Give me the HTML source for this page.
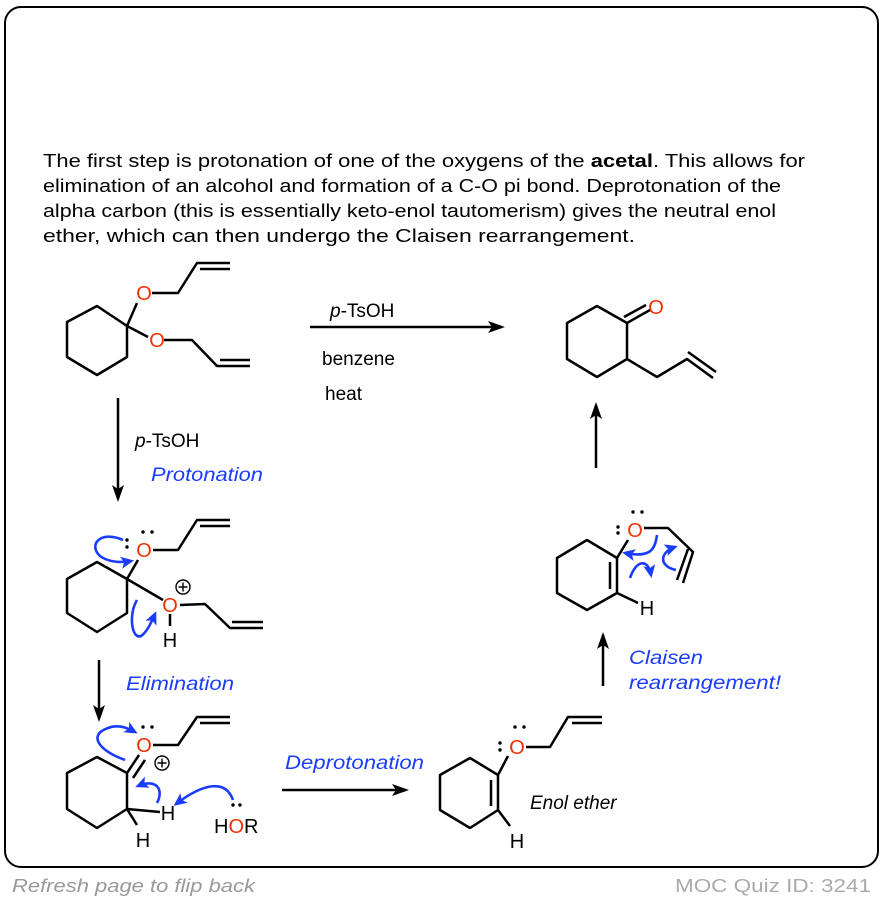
<!DOCTYPE html>
<html><head><meta charset="utf-8"><style>
html,body{margin:0;padding:0;background:#fff;}
svg{display:block;}
text{font-family:"Liberation Sans",Arial,sans-serif;}
</style></head><body>
<svg width="884" height="902" viewBox="0 0 884 902" xmlns="http://www.w3.org/2000/svg">
<defs>
<marker id="ah" markerWidth="20" markerHeight="14" refX="14" refY="7" orient="auto" markerUnits="userSpaceOnUse"><path d="M0,1 L17,7 L0,13 L4,7 Z" fill="#000"/></marker>
<marker id="ab" markerWidth="16" markerHeight="14" refX="10" refY="7" orient="auto" markerUnits="userSpaceOnUse"><path d="M0,1 L13,7 L0,13 L3,7 Z" fill="#1a3cff"/></marker>
</defs>
<rect x="5" y="7" width="873" height="860" rx="16" ry="16" fill="none" stroke="#000" stroke-width="2"/>
<g font-size="18" fill="#000">
<text x="43" y="167" textLength="762" lengthAdjust="spacingAndGlyphs">The first step is protonation of one of the oxygens of the <tspan font-weight="bold">acetal</tspan>. This allows for</text>
<text x="43" y="192" textLength="738" lengthAdjust="spacingAndGlyphs">elimination of an alcohol and formation of a C-O pi bond. Deprotonation of the</text>
<text x="43" y="217" textLength="733" lengthAdjust="spacingAndGlyphs">alpha carbon (this is essentially keto-enol tautomerism) gives the neutral enol</text>
<text x="43" y="242" textLength="592" lengthAdjust="spacingAndGlyphs">ether, which can then undergo the Claisen rearrangement.</text>
</g>
<g fill="none" stroke="#000" stroke-width="2.5" stroke-linejoin="round">
<path d="M97,306 L127,326 L127,357 L97,375 L67,357 L67,322 Z"/>
<path d="M127,326 L137,303 M127,326 L148,337 M152,293 L178,293 L197,263 L230,263 M200,269 L230,269 M164,340 L192,340 L217,366 L250,366 M220,360 L250,360"/>
<path d="M597,306 L627,323 L627,359 L597,377 L567,359 L567,323 Z"/>
<path d="M627,323 L650,310 M624,317 L646,305 M627,359 L657,377 L687,359 L713,378 M688,352 L716,372"/>
<path d="M97,562 L127,579 L127,613 L97,632 L67,613 L67,579 Z"/>
<path d="M127,579 L138,560 M127,579 L163,600 M153,550 L178,550 L197,520 L230,520 M200,526 L230,526 M180,605 L205,604 L230,628 L263,628 M232,622 L263,622 M170,614 L170,626"/>
<path d="M97,757 L127,773 L127,809 L97,828 L67,809 L67,773 Z"/>
<path d="M127,773 L139,755 M133,778 L145,760 M153,745 L178,745 L197,717 L230,717 M200,723 L230,723 M127,809 L160,812 M127,809 L137,825"/>
<path d="M470,758 L498,775 L498,810 L470,828 L440,810 L440,775 Z"/>
<path d="M491,780 L491,806 M498,775 L508,756 M526,747 L550,747 L568,717 L602,717 M572,723 L602,723 M498,810 L510,826"/>
<path d="M587,540 L617,558 L617,593 L587,610 L557,593 L557,558 Z"/>
<path d="M610,562 L610,589 M617,558 L628,540 M644,528 L668,528 L693,552 L683,583 M688,549 L677,580 M617,593 L638,603"/>
<path d="M310,327 L502,327" marker-end="url(#ah)"/>
<path d="M596,468 L596,405" marker-end="url(#ah)"/>
<path d="M118,398 L118,499" marker-end="url(#ah)"/>
<path d="M99,660 L99,719" marker-end="url(#ah)"/>
<path d="M282,790 L406,790" marker-end="url(#ah)"/>
<path d="M603,686 L603,635" marker-end="url(#ah)"/>
</g>
<g fill="#f03000" font-size="20">
<text x="144" y="300" text-anchor="middle">O</text>
<text x="157" y="347" text-anchor="middle">O</text>
<text x="656" y="314" text-anchor="middle">O</text>
<text x="144" y="557" text-anchor="middle">O</text>
<text x="170" y="612" text-anchor="middle">O</text>
<text x="144" y="752" text-anchor="middle">O</text>
<text x="517" y="754" text-anchor="middle">O</text>
<text x="635" y="537" text-anchor="middle">O</text>
</g>
<g fill="#000" font-size="20">
<text x="170" y="647" text-anchor="middle">H</text>
<text x="168" y="820" text-anchor="middle">H</text>
<text x="143" y="847" text-anchor="middle">H</text>
<text x="214" y="833">H<tspan fill="#f03000">O</tspan>R</text>
<text x="517" y="848" text-anchor="middle">H</text>
<text x="647" y="615" text-anchor="middle">H</text>
</g>
<g fill="#000">
<circle cx="127" cy="540" r="1.7"/><circle cx="127" cy="547" r="1.7"/><circle cx="143" cy="532" r="1.7"/><circle cx="152" cy="532" r="1.7"/>
<circle cx="143" cy="727" r="1.7"/><circle cx="152" cy="727" r="1.7"/>
<circle cx="233" cy="805" r="1.7"/><circle cx="240" cy="805" r="1.7"/>
<circle cx="500" cy="743" r="1.7"/><circle cx="500" cy="750" r="1.7"/><circle cx="515" cy="727" r="1.7"/><circle cx="524" cy="727" r="1.7"/>
<circle cx="618" cy="527" r="1.7"/><circle cx="618" cy="533" r="1.7"/><circle cx="633" cy="512" r="1.7"/><circle cx="642" cy="512" r="1.7"/>
</g>
<g fill="none" stroke="#000" stroke-width="1.4">
<circle cx="183" cy="587" r="7"/><path d="M178.5,587 h9 M183,582.5 v9"/>
<circle cx="162" cy="763" r="7"/><path d="M157.5,763 h9 M162,758.5 v9"/>
</g>
<g fill="none" stroke="#1a3cff" stroke-width="2.6">
<path d="M123,540 C100,530 88,545 100,556 C108,562 120,563 131,561" marker-end="url(#ab)"/>
<path d="M137,600 C128,615 132,640 141,636 C147,632 151,623 155,614" marker-end="url(#ab)"/>
<path d="M125,760 C98,750 88,735 108,728 C118,724 128,728 135,732" marker-end="url(#ab)"/>
<path d="M157,803 C164,790 157,778 138,786" marker-end="url(#ab)"/>
<path d="M233,800 C226,780 205,782 176,804" marker-end="url(#ab)"/>
<path d="M657,535 C655,550 650,558 625,553" marker-end="url(#ab)"/>
<path d="M630,578 C636,560 648,558 651,575" marker-end="url(#ab)"/>
<path d="M676,570 C658,566 660,552 675,547" marker-end="url(#ab)"/>
</g>
<g font-size="19" fill="#000">
<text x="330" y="317"><tspan font-style="italic">p</tspan>-TsOH</text>
<text x="322" y="365">benzene</text>
<text x="325" y="400">heat</text>
<text x="135" y="447"><tspan font-style="italic">p</tspan>-TsOH</text>
<text x="530" y="809" font-style="italic">Enol ether</text>
</g>
<g font-size="19.5" fill="#1a3cff" font-style="italic">
<text x="151" y="481" textLength="112" lengthAdjust="spacingAndGlyphs">Protonation</text>
<text x="126" y="690" textLength="108" lengthAdjust="spacingAndGlyphs">Elimination</text>
<text x="285" y="769" textLength="139" lengthAdjust="spacingAndGlyphs">Deprotonation</text>
<text x="629" y="664" textLength="74" lengthAdjust="spacingAndGlyphs">Claisen</text>
<text x="629" y="689" textLength="152" lengthAdjust="spacingAndGlyphs">rearrangement!</text>
</g>
<text x="12" y="892" font-size="18" fill="#999" font-style="italic" textLength="243" lengthAdjust="spacingAndGlyphs">Refresh page to flip back</text>
<text x="871" y="892" font-size="18" fill="#aaa" text-anchor="end" textLength="196" lengthAdjust="spacingAndGlyphs">MOC Quiz ID: 3241</text>
</svg>
</body></html>
